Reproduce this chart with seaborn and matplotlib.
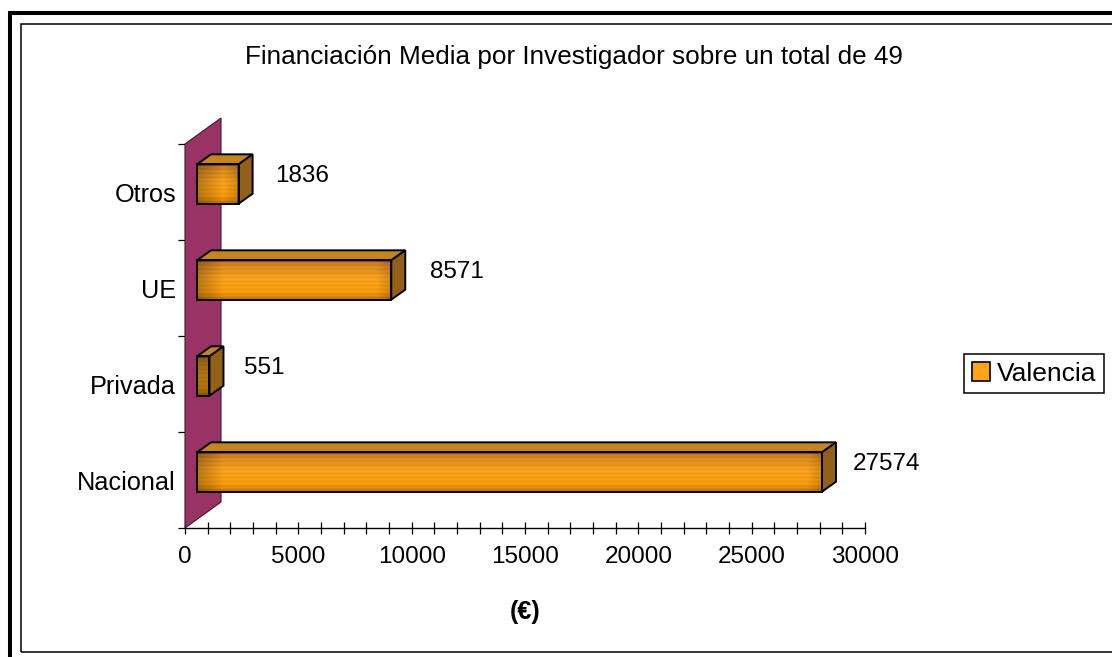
import numpy as np
import pandas as pd
import seaborn as sns
import matplotlib
matplotlib.use("Agg")
import matplotlib.pyplot as plt
from matplotlib.patches import Polygon, Rectangle, Patch
from matplotlib.transforms import ScaledTranslation, IdentityTransform
from matplotlib.ticker import FixedLocator, MultipleLocator

# ---------------- data ----------------
categories = ["Otros", "UE", "Privada", "Nacional"]      # top to bottom
values = [1836, 8571, 551, 27574]
series_name = "Valencia"
title = "Financiación Media por Investigador sobre un total de 49"
x_label = "(€)"
x_ticks = [0, 5000, 10000, 15000, 20000, 25000, 30000]
x_tick_labels = ["0", "5000", "10000", "15000", "20000", "25000", "30000"]

df = pd.DataFrame({"categoria": categories, "valor": values})

# ---------------- style / layout ----------------
W, H, DPI = 1112, 657, 100
FS_TITLE, FS_CAT, FS_NUM, FS_LEG = 18.8, 18.2, 17.5, 19
sns.set_theme(style="white")
plt.rcParams["font.family"] = ["Liberation Sans", "DejaVu Sans"]
for k in ["text.color", "axes.labelcolor", "xtick.color", "ytick.color"]:
    plt.rcParams[k] = "black"

ORANGE = "#FFA31A"
WALL = "#993366"
TOP_C = "#C6841F"
SIDE_C = "#93601A"

FRONT_DX, FRONT_DY = 12, 8      # bar front plane offset (px)
DEPTH_DX, DEPTH_DY = 14, 10     # bar depth (px)
WALL_DX, WALL_DY = 36, 26       # wall depth (px)
label_dx = [37, 39, 35, 31]     # value label offsets after bar end (px)
LABEL_DY = 16

fig = plt.figure(figsize=(W / DPI, H / DPI), dpi=DPI)
fig.patch.set_facecolor("white")


def rect_px(x0, ytop, x1, ybot):
    return [x0 / W, 1 - ybot / H, (x1 - x0) / W, (ybot - ytop) / H]


ax = fig.add_axes(rect_px(185, 144, 865, 528))
ax.patch.set_alpha(0)

sns.barplot(data=df, x="valor", y="categoria", order=categories, orient="h",
            color=ORANGE, width=0.41, edgecolor="black", linewidth=1.4,
            errorbar=None, ax=ax, zorder=5)
bars = [p for p in ax.patches if isinstance(p, Rectangle)]
ax.set_xlim(0, 30000)
ax.set_ylim(3.5, -0.5)
ax.set_xlabel("")
ax.set_ylabel("")

px = lambda v: v / DPI
off = ScaledTranslation(px(FRONT_DX), px(FRONT_DY), fig.dpi_scale_trans)
tr = ax.transData + off

# wall
(wx, wyb) = ax.transData.transform((0, 3.5))
(_, wyt) = ax.transData.transform((0, -0.5))
wall = Polygon([(wx, wyb), (wx + WALL_DX, wyb + WALL_DY), (wx + WALL_DX, wyt + WALL_DY), (wx, wyt)],
               closed=True, facecolor=WALL, edgecolor="#3a1a2a", linewidth=0.8,
               transform=IdentityTransform(), zorder=1, clip_on=False)
ax.add_artist(wall)


def front_image(nw, nh, L):
    t = np.linspace(0, 1, nh)
    st = [0, 0.12, 0.45, 0.8, 1]
    r = np.interp(t, st, [185, 222, 255, 255, 200])
    g = np.interp(t, st, [115, 138, 166, 160, 122])
    b = np.interp(t, st, [30, 34, 28, 14, 10])
    rgb = np.stack([r, g, b], axis=-1)[:, None, :] * np.ones((1, nw, 1))
    xs = L + np.arange(nw)
    fac = 0.74 + 0.26 * np.clip((xs - L) / 26.0, 0, 1)
    fac = fac * (1 - 0.18 * np.clip((xs - (L + nw - 16)) / 16.0, 0, 1))
    rows = (np.arange(nh) // 2) % 2 == 0
    stripe = np.where(rows, 0.94, 1.0)
    rgb = rgb * fac[None, :, None] * stripe[:, None, None]
    return np.clip(rgb / 255.0, 0, 1)


def side_image(nh, nd):
    yy, xx = np.mgrid[0:nh, 0:nd]
    checker = ((yy + xx) % 3 == 0)
    base = np.array([150, 98, 26]) / 255.0
    dark = np.array([110, 70, 15]) / 255.0
    img = np.where(checker[..., None], dark, base)
    return img


for p in bars:
    x0, y0, w, h = p.get_x(), p.get_y(), p.get_width(), p.get_height()
    c = tr.transform([[x0, y0], [x0 + w, y0 + h]])
    L, R = sorted(c[:, 0])
    B, T = sorted(c[:, 1])
    p.set_transform(tr)
    p.set_facecolor("none")
    nw, nh = max(int(round(R - L)), 2), max(int(round(T - B)), 2)
    ax.imshow(front_image(nw, nh, L), extent=(x0, x0 + w, y0 + h, y0), origin="upper",
              transform=tr, aspect="auto", interpolation="bilinear", zorder=3)
    top = Polygon([(L, T), (R, T), (R + DEPTH_DX, T + DEPTH_DY), (L + DEPTH_DX, T + DEPTH_DY)],
                  closed=True, facecolor=TOP_C, edgecolor="black", linewidth=1.4,
                  transform=IdentityTransform(), zorder=4, clip_on=False)
    side = Polygon([(R, B), (R, T), (R + DEPTH_DX, T + DEPTH_DY), (R + DEPTH_DX, B + DEPTH_DY)],
                   closed=True, facecolor=SIDE_C, edgecolor="black", linewidth=1.4,
                   transform=IdentityTransform(), zorder=4, clip_on=False)
    ax.add_artist(top)
    ax.add_artist(side)

ax.set_xlim(0, 30000)
ax.set_ylim(3.5, -0.5)

# value labels
for i, (cat, v) in enumerate(zip(categories, values)):
    t_off = ScaledTranslation(px(FRONT_DX + label_dx[i]), px(LABEL_DY), fig.dpi_scale_trans)
    ax.text(v, i, str(v), transform=ax.transData + t_off, ha="left", va="center",
            fontsize=FS_NUM, color="black", zorder=6, clip_on=False)

# axes styling
for s in ["top", "right", "left"]:
    ax.spines[s].set_visible(False)
ax.spines["bottom"].set_color("black")
ax.spines["bottom"].set_linewidth(1.0)

ax.xaxis.set_major_locator(FixedLocator(x_ticks))
ax.set_xticklabels(x_tick_labels)
ax.xaxis.set_minor_locator(MultipleLocator(1000))
ax.tick_params(axis="x", which="both", bottom=True, direction="inout", length=8.6,
               width=0.9, color="black")
ax.tick_params(axis="x", which="major", labelsize=FS_NUM, pad=8.5)

ax.set_yticks(range(len(categories)))
ax.set_yticklabels(categories)
ax.yaxis.set_minor_locator(FixedLocator([-0.5, 0.5, 1.5, 2.5, 3.5]))
ax.tick_params(axis="y", which="major", left=True, length=0, labelsize=FS_CAT, pad=6.5)
ax.tick_params(axis="y", which="minor", left=True, direction="out", length=5,
               width=0.9, color="black")

# title and axis label
fig.text(574 / W, 1 - 57 / H, title, ha="center", va="center", fontsize=FS_TITLE)
fig.text(525 / W, 1 - 612 / H, x_label, ha="center", va="center", fontsize=FS_CAT,
         fontweight="bold")

# legend
leg = fig.legend(handles=[Patch(facecolor=ORANGE, edgecolor="black", linewidth=1.2)],
                 labels=[series_name], loc="center left",
                 bbox_to_anchor=(964 / W, 1 - 373.5 / H), frameon=True, fancybox=False,
                 framealpha=1, edgecolor="black", fontsize=FS_LEG, handlelength=0.7,
                 handleheight=0.7, handletextpad=0.25, borderpad=0.3, borderaxespad=0)
leg.get_frame().set_linewidth(1.1)

# chart frames
fig.add_artist(Rectangle((9.5 / W, -0.2), 1.2, 1 - 12.5 / H + 0.2, transform=fig.transFigure,
                         fill=False, edgecolor="black", linewidth=2.9, clip_on=False))
fig.add_artist(Rectangle((20.5 / W, 1 - 651.5 / H), 1.2, (651.5 - 23.5) / H,
                         transform=fig.transFigure, fill=False, edgecolor="black",
                         linewidth=1.1, clip_on=False))

fig.savefig("out.png", dpi=DPI)
